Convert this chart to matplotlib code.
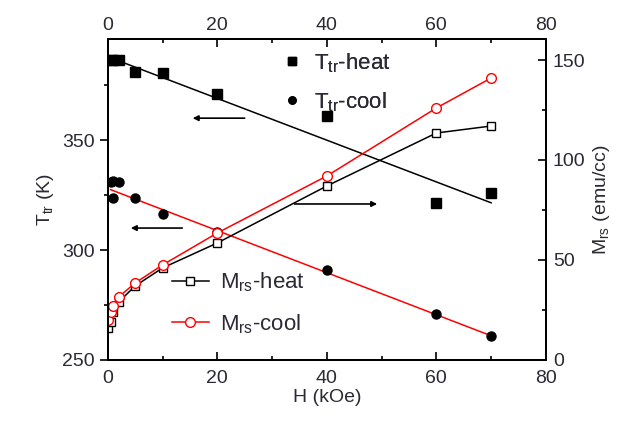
import matplotlib
matplotlib.use("Agg")
import matplotlib.pyplot as plt

plt.rcParams['font.family'] = ['Liberation Sans', 'DejaVu Sans']
plt.rcParams['mathtext.fontset'] = 'custom'
plt.rcParams['mathtext.rm'] = 'Liberation Sans'
plt.rcParams['mathtext.it'] = 'Liberation Sans'

# T_tr data (left axis)
h_heat_T = [0.5, 1, 2, 5, 10, 20, 40, 60, 70]
t_heat = [386.5, 386.5, 386.5, 381, 380.5, 371, 361, 321.5, 326]
h_cool_T = [0.5, 1, 2, 1, 5, 10, 20, 40, 60, 70]
t_cool = [331, 331.5, 331, 323.5, 323.5, 316.5, 308, 291, 271, 261]

# linear fit lines (endpoints)
fit_x = [0.5, 70]
fit_heat = [387.5, 321.5]
fit_cool = [327.5, 261]

# M_rs data (right axis)
h_m = [0, 0.5, 1, 2, 5, 10, 20, 40, 60, 70]
m_heat = [16, 19, 24, 29, 37, 46, 58.5, 87, 113.5, 117]
m_cool = [20, 24, 27, 31.5, 38.5, 47.5, 63.5, 92, 126, 141]

fig = plt.figure(figsize=(6.34, 4.29), dpi=100)
ax = fig.add_axes([0.170, 0.161, 0.691, 0.748])
ax2 = ax.twinx()
ax3 = ax.twiny()

fs = 14
tc = '#2a2a35'

# fits
ax.plot(fit_x, fit_heat, color='black', lw=1.1)
ax.plot(fit_x, fit_cool, color='red', lw=1.1)
l1, = ax.plot(h_heat_T, t_heat, 's', color='black', ms=7, ls='none')
l2, = ax.plot(h_cool_T, t_cool, 'o', color='black', ms=6.5, ls='none')

l3, = ax2.plot(h_m, m_heat, '-s', color='black', mfc='white', ms=6, lw=1.1)
l4, = ax2.plot(h_m, m_cool, '-o', color='red', mfc='white', ms=7, lw=1.1)

# arrows
ax.annotate('', xy=(15, 360), xytext=(25.5, 360),
            arrowprops=dict(arrowstyle='-|>', color='black', lw=1.2, mutation_scale=8))
ax.annotate('', xy=(3.7, 310), xytext=(14.1, 310),
            arrowprops=dict(arrowstyle='-|>', color='black', lw=1.2, mutation_scale=8))
ax2.annotate('', xy=(49.7, 78), xytext=(33.6, 78),
             arrowprops=dict(arrowstyle='-|>', color='black', lw=1.2, mutation_scale=8))

ax.set_xlim(0, 80)
ax.set_ylim(250, 396)
ax2.set_ylim(0, 160.5)
ax3.set_xlim(0, 80)

ax.set_xticks([0, 20, 40, 60, 80])
ax.set_xticks([10, 30, 50, 70], minor=True)
ax3.set_xticks([0, 20, 40, 60, 80])
ax3.set_xticks([10, 30, 50, 70], minor=True)
ax.set_yticks([250, 300, 350])
ax.set_yticks([275, 325, 375], minor=True)
ax2.set_yticks([0, 50, 100, 150])
ax2.set_yticks([25, 75, 125], minor=True)

ax.tick_params(axis='x', direction='in', length=6, labelsize=fs, labelcolor=tc, width=1.2, pad=7)
ax.tick_params(axis='x', which='minor', direction='in', length=3, width=1.2)
ax3.tick_params(axis='x', direction='in', length=6, labelsize=fs, labelcolor=tc, width=1.2)
ax3.tick_params(axis='x', which='minor', direction='in', length=3, width=1.2)
ax.tick_params(axis='y', direction='out', length=6, labelsize=fs, labelcolor=tc, width=1.2)
ax.tick_params(axis='y', which='minor', direction='out', length=3, width=1.2)
ax2.tick_params(axis='y', direction='in', length=6, labelsize=fs, labelcolor=tc, width=1.2, pad=5)
ax2.tick_params(axis='y', which='minor', direction='in', length=3, width=1.2)

for a in (ax, ax2, ax3):
    for s in a.spines.values():
        s.set_linewidth(1.3)

ax.set_xlabel('H (kOe)', fontsize=fs, color=tc, labelpad=2)
ax.set_ylabel(r'T$_{\rm tr}$ (K)', fontsize=fs, color=tc)
ax2.set_ylabel(r'M$_{\rm rs}$ (emu/cc)', fontsize=fs, color=tc)

leg1 = ax.legend([l1, l2], [r'T$_{\rm tr}$-heat', r'T$_{\rm tr}$-cool'],
                 loc='upper left', bbox_to_anchor=(0.35, 1.025), frameon=False,
                 fontsize=16, handlelength=1.0, handletextpad=0.5, labelspacing=0.7,
                 labelcolor=tc, markerscale=0.8)
ax.add_artist(leg1)
ax2.legend([l3, l4], [r'M$_{\rm rs}$-heat', r'M$_{\rm rs}$-cool'],
           loc='upper left', bbox_to_anchor=(0.10, 0.34), frameon=False,
           fontsize=16, handlelength=1.7, handletextpad=0.5, labelspacing=0.8,
           labelcolor=tc)

fig.savefig('out.png', dpi=100)
